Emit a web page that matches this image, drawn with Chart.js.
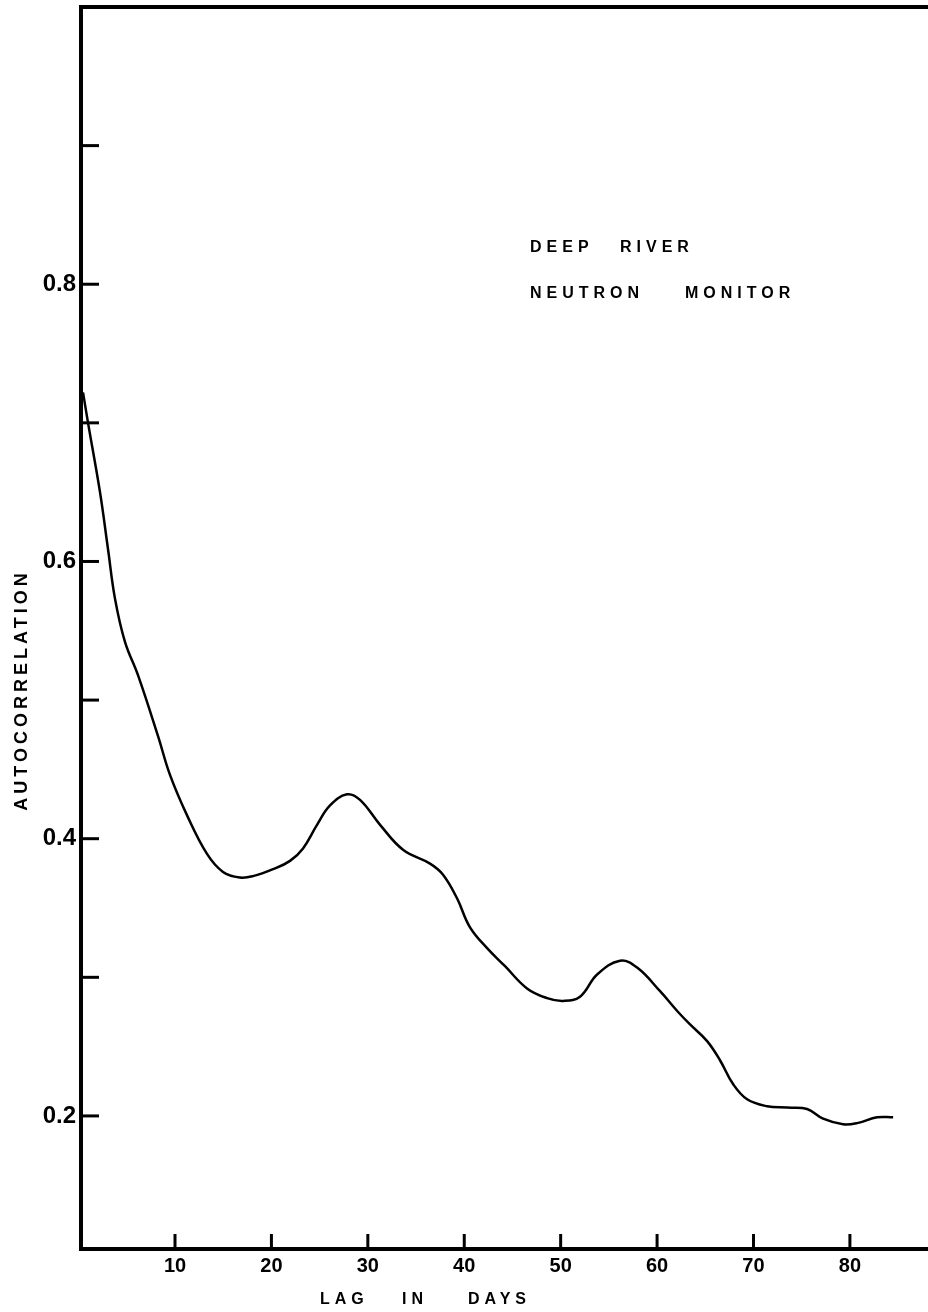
<!DOCTYPE html>
<html>
<head>
<meta charset="utf-8">
<script src="https://cdn.jsdelivr.net/npm/chart.js@4.4.0/dist/chart.umd.min.js"></script>
<style>
  body { margin: 0; background: #fff; }
  #grafico { display: block; }
</style>
</head>
<body>
<canvas id="grafico" width="928" height="1312"></canvas>
<script>
// lag (days) and autocorrelation
const lagDays = [
  0.46, 0.98, 2.22, 3.05, 3.78, 4.81, 6.16, 8.24, 9.48, 11.24,
  13.32, 14.98, 16.74, 18.09, 20.17, 21.93, 23.28, 24.73, 26.08, 27.84,
  29.19, 31.27, 33.65, 36.45, 37.8, 39.25, 40.6, 42.37, 44.23, 46.51,
  48.59, 50.25, 52.01, 53.78, 56.16, 57.93, 60.31, 62.18, 63.42, 65.19,
  66.54, 67.88, 69.34, 71.41, 73.49, 75.56, 77.22, 79.29, 80.85, 82.82, 84.48
];
const autocorr = [
  0.722, 0.700, 0.650, 0.609, 0.573, 0.542, 0.518, 0.474, 0.446, 0.417,
  0.389, 0.376, 0.372, 0.373, 0.378, 0.384, 0.393, 0.410, 0.424, 0.432,
  0.428, 0.410, 0.392, 0.382, 0.374, 0.357, 0.336, 0.321, 0.308, 0.292,
  0.285, 0.283, 0.286, 0.302, 0.312, 0.307, 0.290, 0.275, 0.266, 0.254,
  0.240, 0.223, 0.212, 0.207, 0.206, 0.205, 0.198, 0.194, 0.195, 0.199, 0.199
];

const xTicks = [10, 20, 30, 40, 50, 60, 70, 80];
const yTicks = [0.2, 0.3, 0.4, 0.5, 0.6, 0.7, 0.8, 0.9];
const yTickLabels = ['0.2', '', '0.4', '', '0.6', '', '0.8', ''];

const familia = '"Liberation Sans", Arial, sans-serif';

// marcas dos eixos para dentro + textos
const extras = {
  id: 'extras',
  afterDraw(chart) {
    const ctx = chart.ctx;
    const area = chart.chartArea;
    const sx = chart.scales.x;
    const sy = chart.scales.y;
    ctx.save();
    ctx.strokeStyle = '#000';
    ctx.lineWidth = 3;
    yTicks.forEach(v => {
      const y = sy.getPixelForValue(v);
      ctx.beginPath();
      ctx.moveTo(area.left, y);
      ctx.lineTo(area.left + 18, y);
      ctx.stroke();
    });
    xTicks.forEach(v => {
      const x = sx.getPixelForValue(v);
      ctx.beginPath();
      ctx.moveTo(x, area.bottom);
      ctx.lineTo(x, area.bottom - 15);
      ctx.stroke();
    });
    // linha de cima
    ctx.lineWidth = 4;
    ctx.beginPath();
    ctx.moveTo(area.left - 2, area.top);
    ctx.lineTo(area.right, area.top);
    ctx.stroke();

    ctx.fillStyle = '#000';
    ctx.font = 'bold 16px ' + familia;
    ctx.letterSpacing = '5px';
    ctx.textBaseline = 'alphabetic';
    ctx.textAlign = 'left';
    ctx.fillText('DEEP', 530, 252);
    ctx.fillText('RIVER', 620, 252);
    ctx.fillText('NEUTRON', 530, 298);
    ctx.fillText('MONITOR', 685, 298);
    ctx.fillText('LAG', 320, 1304);
    ctx.fillText('IN', 402, 1304);
    ctx.fillText('DAYS', 468, 1304);

    ctx.translate(27, 690);
    ctx.rotate(-Math.PI / 2);
    ctx.textAlign = 'center';
    ctx.font = 'bold 18px ' + familia;
    ctx.letterSpacing = '4px';
    ctx.fillText('AUTOCORRELATION', 0, 0);
    ctx.restore();
  }
};

const dataAuto = {
  datasets: [{
    label: 'Autocorrelation',
    data: lagDays.map((d, i) => ({ x: d, y: autocorr[i] })),
    borderColor: '#000',
    borderWidth: 2.5,
    pointRadius: 0,
    tension: 0.4,
    fill: false
  }]
};

const configAuto = {
  type: 'line',
  data: dataAuto,
  options: {
    responsive: false,
    animation: false,
    devicePixelRatio: 1,
    layout: { padding: { top: 7, right: 0, bottom: 0, left: 0 } },
    plugins: { legend: { display: false }, tooltip: { enabled: false } },
    scales: {
      x: {
        type: 'linear',
        min: 0.25,
        max: 88.1,
        afterBuildTicks: s => { s.ticks = xTicks.map(v => ({ value: v })); },
        afterFit: s => { s.height = 63; s.paddingLeft = 0; s.paddingRight = 0; },
        grid: { display: false, drawTicks: false },
        border: { display: true, color: '#000', width: 4 },
        ticks: { color: '#000', font: { family: familia, size: 20, weight: 'bold' }, padding: 5, maxRotation: 0 }
      },
      y: {
        type: 'linear',
        min: 0.104,
        max: 1.0,
        afterBuildTicks: s => { s.ticks = yTicks.map(v => ({ value: v })); },
        afterFit: s => { s.width = 81; s.paddingTop = 0; s.paddingBottom = 0; },
        grid: { display: false, drawTicks: false },
        border: { display: true, color: '#000', width: 4 },
        ticks: {
          color: '#000',
          font: { family: familia, size: 24, weight: 'bold' },
          padding: 5,
          callback: (v, i) => yTickLabels[i]
        }
      }
    }
  },
  plugins: [extras]
};

const graficoAuto = new Chart(document.getElementById('grafico'), configAuto);
</script>
</body>
</html>
